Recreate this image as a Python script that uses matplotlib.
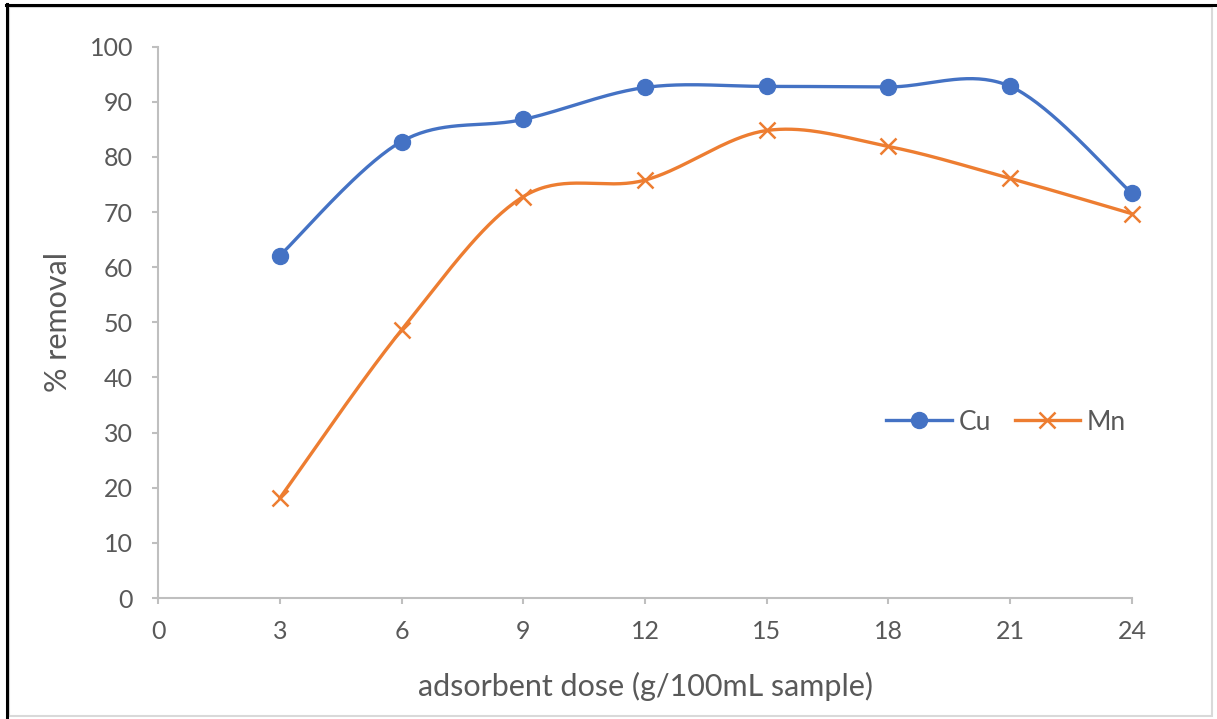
import numpy as np
import matplotlib
matplotlib.use("Agg")
import matplotlib.pyplot as plt
from matplotlib.lines import Line2D
from matplotlib.patches import Rectangle

# Data
dose = [3, 6, 9, 12, 15, 18, 21, 24]
cu_removal = [62.1, 82.8, 86.8, 92.6, 92.8, 92.7, 92.8, 73.4]
mn_removal = [18.1, 48.6, 72.8, 75.8, 84.8, 81.9, 76.1, 69.7]
x_ticks = [0, 3, 6, 9, 12, 15, 18, 21, 24]
y_ticks = [0, 10, 20, 30, 40, 50, 60, 70, 80, 90, 100]

BLUE = "#4472C4"
ORANGE = "#ED7D31"
GREY_TXT = "#595959"
AXIS_GREY = "#BFBFBF"

plt.rcParams["font.family"] = ["Lato", "DejaVu Sans"]


def smooth(xs, ys, n=40):
    """Catmull-Rom style cubic Bezier smoothing through every point."""
    p = np.column_stack([xs, ys]).astype(float)
    m = len(p)
    out = [p[0]]
    for i in range(m - 1):
        p0 = p[i - 1] if i > 0 else p[i]
        p1 = p[i]
        p2 = p[i + 1]
        p3 = p[i + 2] if i + 2 < m else p[i + 1]
        c1 = p1 + (p2 - p0) / 6.0
        c2 = p2 - (p3 - p1) / 6.0
        t = np.linspace(0, 1, n)[1:, None]
        seg = ((1 - t) ** 3) * p1 + 3 * ((1 - t) ** 2) * t * c1 \
            + 3 * (1 - t) * t ** 2 * c2 + t ** 3 * p2
        out.extend(seg)
    out = np.array(out)
    return out[:, 0], out[:, 1]


fig = plt.figure(figsize=(12.17, 7.19), dpi=100)
W, H = 1217, 719
ax = fig.add_axes([158 / W, 1 - 598 / H, (1132 - 158) / W, (598 - 46.7) / H])

sx, sy = smooth(dose, cu_removal)
ax.plot(sx, sy, color=BLUE, lw=2.4, solid_capstyle="round", zorder=3, clip_on=False)
ax.plot(dose, cu_removal, ls="none", marker="o", ms=11.5, color=BLUE, zorder=4, clip_on=False)

sx, sy = smooth(dose, mn_removal)
ax.plot(sx, sy, color=ORANGE, lw=2.4, solid_capstyle="round", zorder=3, clip_on=False)
ax.plot(dose, mn_removal, ls="none", marker="x", ms=11, mew=1.8, color=ORANGE, zorder=4,
        clip_on=False)

ax.set_xlim(0, 24)
ax.set_ylim(0, 100)
ax.set_xticks(x_ticks)
ax.set_yticks(y_ticks)
ax.tick_params(axis="both", direction="out", length=4, width=1.5, color=AXIS_GREY,
               labelcolor=GREY_TXT, labelsize=18)
ax.tick_params(axis="x", pad=12)
ax.tick_params(axis="y", pad=14)
for s in ("top", "right"):
    ax.spines[s].set_visible(False)
for s in ("left", "bottom"):
    ax.spines[s].set_color(AXIS_GREY)
    ax.spines[s].set_linewidth(1.5)

fig.text(646 / W, 1 - 686 / H, "adsorbent dose (g/100mL sample)", ha="center", va="center",
         fontsize=22, color=GREY_TXT)
fig.text(58 / W, 1 - 322 / H, "% removal", ha="center", va="center", rotation=90,
         fontsize=22, color=GREY_TXT)

handles = [
    Line2D([], [], color=BLUE, lw=2.4, marker="o", ms=11.5),
    Line2D([], [], color=ORANGE, lw=2.4, marker="x", ms=11, mew=1.8),
]
leg = fig.legend(handles, ["Cu", "Mn"], loc="center", bbox_to_anchor=(1006 / W, 1 - 422 / H),
                 ncol=2, frameon=False, fontsize=19, handlelength=2.5, handletextpad=0.25,
                 columnspacing=0.9)
for t in leg.get_texts():
    t.set_color(GREY_TXT)

# chart frame
fig.add_artist(Rectangle((9 / W, 1 - 716 / H), (1212 - 9) / W, (716 - 7) / H,
                         transform=fig.transFigure, fill=False, ec="#D9D9D9", lw=1.5))
fig.add_artist(Line2D([7 / W, 7 / W], [0, 1 - 4 / H], transform=fig.transFigure,
                      color="black", lw=2.2))
fig.add_artist(Line2D([6 / W, 1], [1 - 5 / H, 1 - 5 / H], transform=fig.transFigure,
                      color="black", lw=2.2))

fig.savefig("out.png", dpi=100, facecolor="white")
